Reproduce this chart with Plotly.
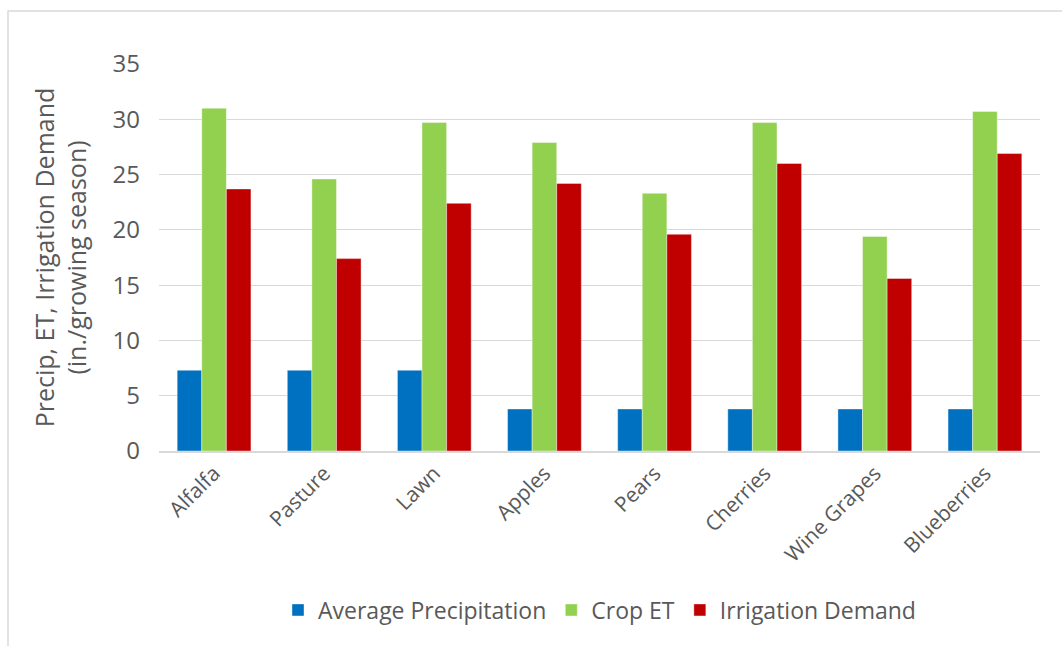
import plotly.graph_objects as go

categories = ["Alfalfa", "Pasture", "Lawn", "Apples", "Pears", "Cherries", "Wine Grapes", "Blueberries"]
avg_precip = [7.3, 7.3, 7.3, 3.8, 3.8, 3.8, 3.8, 3.8]
crop_et = [31.0, 24.6, 29.7, 27.9, 23.3, 29.7, 19.4, 30.7]
irrigation = [23.7, 17.4, 22.4, 24.2, 19.6, 26.0, 15.6, 26.9]
y_ticks = [0, 5, 10, 15, 20, 25, 30, 35]

FONT = "Open Sans"
GRAY = "#595959"

fig = go.Figure()
for name, vals, col in [("Average Precipitation", avg_precip, "#0070C0"),
                        ("Crop ET", crop_et, "#92D050"),
                        ("Irrigation Demand", irrigation, "#C00000")]:
    fig.add_trace(go.Bar(x=categories, y=vals, name=name, marker_color=col,
                         marker_line=dict(color="rgba(255,255,255,0.5)", width=0.8)))

L, R, T, B = 159, 22, 64, 195
W, H = 1062, 646
pw, ph = W - L - R, H - T - B

fig.update_layout(
    width=W, height=H,
    margin=dict(l=L, r=R, t=T, b=B),
    paper_bgcolor="white", plot_bgcolor="white",
    barmode="group", bargap=0.33, bargroupgap=0,
    font=dict(family=FONT, color=GRAY, size=21),
    xaxis=dict(tickangle=-45, tickfont=dict(size=21, color=GRAY), showline=True,
               linecolor="#d9d9d9", linewidth=1.5, ticks=""),
    yaxis=dict(range=[0, 35], tickvals=y_ticks, gridcolor="#d9d9d9", gridwidth=1.3,
               zeroline=False, tickfont=dict(size=24, color=GRAY), ticks="",
               ticklabelstandoff=18,
               title=dict(text="Precip, ET, Irrigation Demand<br>(in./growing season)",
                          font=dict(size=25, color=GRAY), standoff=18)),
    legend=dict(orientation="h", x=0.5, xanchor="center", y=-(610 - 451) / ph,
                yanchor="middle", font=dict(size=23, color=GRAY), itemwidth=30,
                traceorder="normal"),
    shapes=[dict(type="rect", xref="paper", yref="paper",
                 x0=(8 - L) / pw, x1=(W + 5 - L) / pw,
                 y0=-(H + 5 - (H - B)) / ph, y1=1 + (T - 11) / ph,
                 line=dict(color="#d9d9d9", width=1.5), fillcolor="rgba(0,0,0,0)",
                 layer="below")],
)

fig.write_html("out.html")
